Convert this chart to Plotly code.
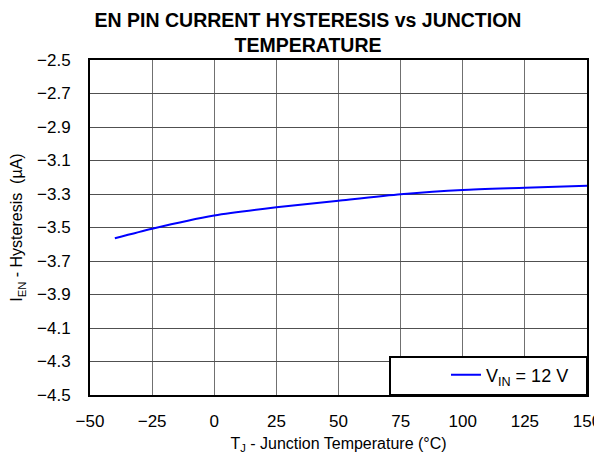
import plotly.graph_objects as go

temps = [-40, -25, 0, 25, 50, 75, 100, 125, 150]
hyst = [-3.564, -3.507, -3.428, -3.379, -3.340, -3.302, -3.276, -3.263, -3.250]
series_name = "V<sub>IN</sub> = 12 V"

x_ticks = [-50, -25, 0, 25, 50, 75, 100, 125, 150]
x_tick_text = ["\u221250", "\u221225", "0", "25", "50", "75", "100", "125", "150"]
y_ticks = [-2.5, -2.7, -2.9, -3.1, -3.3, -3.5, -3.7, -3.9, -4.1, -4.3, -4.5]
y_tick_text = ["\u2212%.1f" % abs(v) for v in y_ticks]

font_family = "Liberation Sans, Arial, sans-serif"

# the page body adds an 8px offset; layout is designed in figure pixels
L, PW, T, PH = 82, 497, 52, 335

fig = go.Figure()
fig.add_trace(go.Scatter(
    x=temps, y=hyst, mode="lines", name=series_name,
    line=dict(color="#0000ff", width=2, shape="spline", smoothing=0.6),
))

fig.update_layout(
    template="none",
    width=602, height=465,
    margin=dict(l=L, r=602 - L - PW, t=T, b=465 - T - PH, autoexpand=False),
    paper_bgcolor="white", plot_bgcolor="white",
    font=dict(family=font_family, size=16, color="black"),
    title=dict(
        text="<b>EN PIN CURRENT HYSTERESIS vs JUNCTION<br>TEMPERATURE</b>",
        x=300 / 602, xanchor="center", xref="container",
        y=1 - 19 / 465, yanchor="middle", yref="container",
        font=dict(family=font_family, size=19.5, color="black"),
    ),
    showlegend=True,
    legend=dict(
        x=(446 - 90) / PW, xanchor="left", y=(395 - 375) / PH, yanchor="middle",
        bgcolor="rgba(0,0,0,0)", borderwidth=0,
        font=dict(family=font_family, size=18, color="black"),
    ),
    shapes=[dict(
        type="rect", xref="paper", yref="paper",
        x0=(390 - 90) / PW, x1=1.0, y0=0.0, y1=(395 - 357) / PH,
        line=dict(color="black", width=2), fillcolor="white", layer="above",
    )],
)

fig.update_xaxes(
    range=[-50, 150], tickmode="array", tickvals=x_ticks, ticktext=x_tick_text,
    showgrid=True, gridcolor="#707070", gridwidth=1,
    showline=True, linecolor="black", linewidth=2, mirror=True,
    zeroline=False, ticks="", tickfont=dict(size=17), automargin=False,
    ticklabelstandoff=10,
    title=dict(text="T<sub>J</sub> - Junction Temperature (\u00b0C)", font=dict(size=16), standoff=7),
)
fig.update_yaxes(
    range=[-4.5, -2.5], tickmode="array", tickvals=y_ticks, ticktext=y_tick_text,
    showgrid=True, gridcolor="#505050", gridwidth=1,
    showline=True, linecolor="black", linewidth=2, mirror=True,
    zeroline=False, ticks="", tickfont=dict(size=17), automargin=False,
    ticklabelstandoff=14,
    title=dict(text="I<sub>EN</sub> - Hysteresis  (\u00b5A)", font=dict(size=16), standoff=10),
)

fig.write_html("out.html")
